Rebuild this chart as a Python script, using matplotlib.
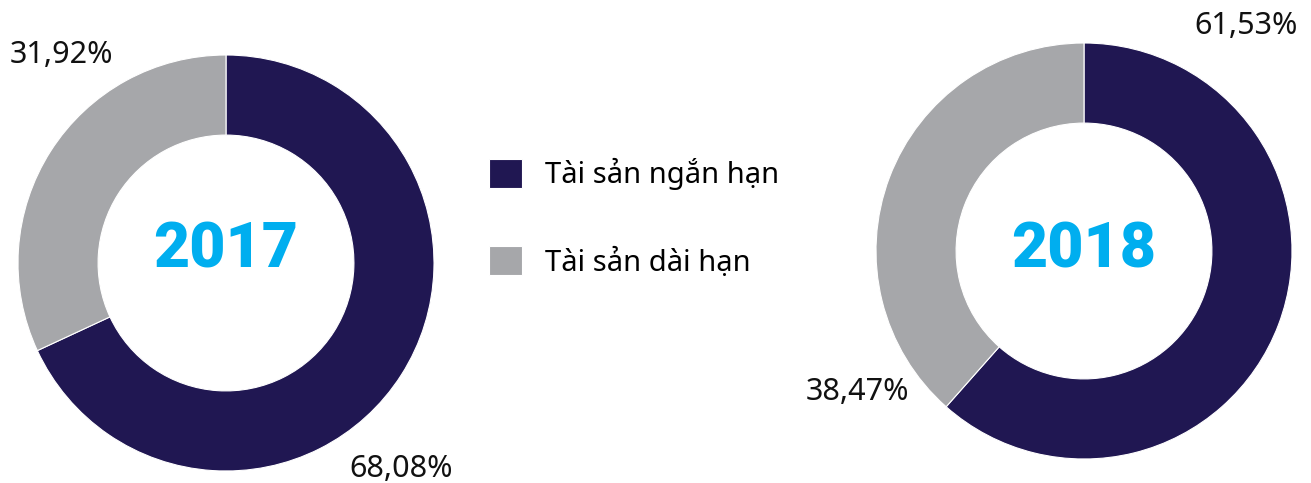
import matplotlib.pyplot as plt

plt.rcParams['font.family'] = ['Noto Sans', 'DejaVu Sans']

# du lieu
categories = ['Tài sản ngắn hạn', 'Tài sản dài hạn']
years = ['2017', '2018']
values_2017 = [68.08, 31.92]
values_2018 = [61.53, 38.47]
labels_2017 = ['68,08%', '31,92%']
labels_2018 = ['61,53%', '38,47%']

colors = ['#201752', '#a6a7aa']
W, H = 1311, 483

fig = plt.figure(figsize=(W / 100, H / 100), dpi=100)


def donut(cx, cy, r, vals, year, labels, label_pos):
    ax = fig.add_axes([(cx - r) / W, (H - cy - r) / H, 2 * r / W, 2 * r / H])
    wedges, _ = ax.pie(vals, colors=colors, startangle=90, counterclock=False,
                       radius=1, wedgeprops=dict(width=0.385, edgecolor='white', linewidth=0.8))
    ax.set_xlim(-1, 1)
    ax.set_ylim(-1, 1)
    ax.set_aspect('auto')
    ax.axis('off')
    # nam o giua, duong chan chu o y = 267 px
    fig.text(cx / W, 1 - 267 / H, year, ha='center', va='baseline', fontsize=45,
             family=['Roboto', 'DejaVu Sans'], fontweight='black', color='#00aeef')
    for lab, (x, y) in zip(labels, label_pos):
        ax.text(x, y, lab, ha='center', va='center', fontsize=22,
                color='#111111', clip_on=False)
    return wedges


wedges = donut(226, 263, 208, values_2017, years[0], labels_2017,
               [(0.84, -0.99), (-0.79, 1.0)])
donut(1084, 251, 208, values_2018, years[1], labels_2018,
      [(0.78, 1.08), (-1.09, -0.68)])

fig.legend(wedges, categories, loc='upper left',
           bbox_to_anchor=(489 / W, 1 - 158 / H), frameon=False,
           fontsize=21, handlelength=1.13, handleheight=1.13,
           handletextpad=0.8, labelspacing=1.93, borderpad=0, borderaxespad=0)

fig.savefig('out.png', dpi=100)
